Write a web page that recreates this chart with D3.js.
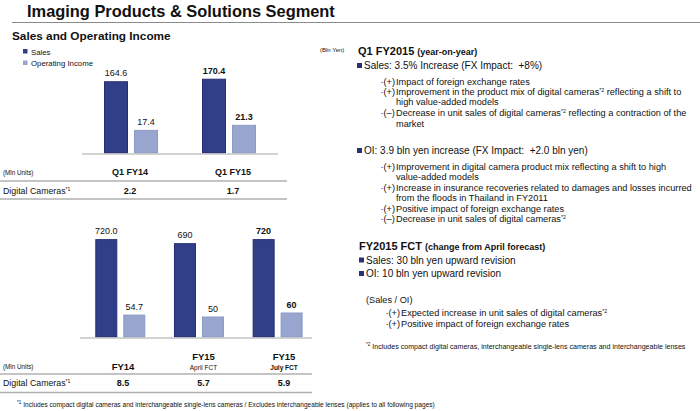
<!DOCTYPE html>
<html><head><meta charset="utf-8">
<script src="https://cdn.jsdelivr.net/npm/d3@7"></script>
<style>
html,body{margin:0;padding:0;background:#fff;}
svg{display:block;font-family:"Liberation Sans",Arial,Helvetica,sans-serif;}
</style></head>
<body>
<svg id="c" width="700" height="411"></svg>
<script>
// ---------- data ----------
const seriesNames = ["Sales", "Operating Income"];
const qCategories = ["Q1 FY14", "Q1 FY15"];
const qSales = [164.6, 170.4];
const qOI = [17.4, 21.3];
const qSalesLabels = ["164.6", "170.4"];
const qOILabels = ["17.4", "21.3"];
const qCameras = ["2.2", "1.7"];

const fyCategories = ["FY14", "FY15 April FCT", "FY15 July FCT"];
const fyMain = ["FY14", "FY15", "FY15"];
const fySub = ["", "April FCT", "July FCT"];
const fySales = [720.0, 690, 720];
const fyOI = [54.7, 50, 60];
const fySalesLabels = ["720.0", "690", "720"];
const fyOILabels = ["54.7", "50", "60"];
const fyCameras = ["8.5", "5.7", "5.9"];

const boldQ = [false, true];
const boldFY = [false, false, true];

// ---------- style ----------
const SALES = "#313f88", SALES_STROKE = "#262f75";
const OI = "#98a6cf", OI_STROKE = "#8c9ac6";
const svg = d3.select("#c");

// segments: strings, or {sup: "*2"}
function txt(x, y, segs, size, opts = {}) {
  const t = svg.append("text").attr("x", x).attr("y", y)
    .attr("font-size", size).attr("fill", opts.fill || "#111")
    .attr("font-weight", opts.bold ? "bold" : "normal")
    .attr("text-anchor", opts.anchor || "start");
  if (typeof segs === "string") segs = [segs];
  let raised = false;
  segs.forEach(s => {
    if (typeof s === "string") {
      const sp = t.append("tspan").text(s.replace(/  /g, "\u00a0 "));
      if (raised) { sp.attr("dy", 3); raised = false; }
    } else {
      t.append("tspan").attr("font-size", s.size || 5.2).attr("dy", -3).text(s.sup);
      raised = true;
    }
  });
  return t;
}

// ---------- header ----------
txt(27, 17, "Imaging Products & Solutions Segment", 16.4, {bold: true});
svg.append("line").attr("x1", 12).attr("x2", 700).attr("y1", 22.5).attr("y2", 22.5)
  .attr("stroke", "#8a8a8a").attr("stroke-width", 1.2);
txt(12, 40, "Sales and Operating Income", 11.8, {bold: true});

// legend
[SALES, OI].forEach((c, i) => {
  svg.append("rect").attr("x", 23).attr("y", 49 + i * 11.5).attr("width", 4.5).attr("height", 4.5).attr("fill", c);
  txt(31, 54.5 + i * 11.5, seriesNames[i], 7.8);
});
txt(320, 52, "(Bln Yen)", 6);

// ---------- generic grouped chart ----------
function drawChart(cats, sales, oi, sLab, oLab, bold, cfg) {
  const x = d3.scaleBand().domain(cats).range(cfg.xRange).padding(0);
  const inner = d3.scaleBand().domain(seriesNames).range(cfg.inner).paddingInner(cfg.pin);
  const yS = d3.scaleLinear().domain(cfg.sDom).range([cfg.base, cfg.sTop]);
  const yO = d3.scaleLinear().domain(cfg.oDom).range([cfg.base, cfg.oTop]);
  const g = svg.append("g");
  const groups = [
    {vals: sales, labs: sLab, y: yS, name: seriesNames[0], fill: SALES, stroke: SALES_STROKE},
    {vals: oi, labs: oLab, y: yO, name: seriesNames[1], fill: OI, stroke: OI_STROKE}
  ];
  groups.forEach(s => {
    g.selectAll(null).data(cats).enter().append("rect")
      .attr("x", c => x(c) + inner(s.name) + 0.5)
      .attr("width", inner.bandwidth() - 1)
      .attr("y", (c, i) => s.y(s.vals[i]))
      .attr("height", (c, i) => cfg.base - s.y(s.vals[i]))
      .attr("fill", s.fill).attr("stroke", s.stroke).attr("stroke-width", 1);
    g.selectAll(null).data(cats).enter().append("text")
      .attr("x", c => x(c) + inner(s.name) + inner.bandwidth() / 2)
      .attr("y", (c, i) => s.y(s.vals[i]) - 5.5)
      .attr("text-anchor", "middle").attr("font-size", 9)
      .attr("font-weight", (c, i) => bold[i] ? "bold" : "normal")
      .attr("fill", "#111")
      .text((c, i) => s.labs[i]);
  });
  svg.append("line").attr("x1", cfg.lineX[0]).attr("x2", cfg.lineX[1])
    .attr("y1", cfg.base + 1).attr("y2", cfg.base + 1)
    .attr("stroke", "#c4c4c4").attr("stroke-width", 1.6);
}

drawChart(qCategories, qSales, qOI, qSalesLabels, qOILabels, boldQ, {
  xRange: [82, 278], inner: [22, 76], pin: 0.2,
  sDom: [0, 200], oDom: [0, 50], base: 153, sTop: 66.4, oTop: 88, lineX: [82, 278]
});
drawChart(fyCategories, fySales, fyOI, fySalesLabels, fyOILabels, boldFY, {
  xRange: [81, 317], inner: [14.3, 64.3], pin: 0.214,
  sDom: [0, 800], oDom: [0, 100], base: 337, sTop: 228.8, oTop: 297, lineX: [80, 312]
});

// ---------- tables ----------
const colQ = d3.scalePoint().domain(qCategories).range([130, 233]);
txt(3, 175, "(Mln Units)", 6.3);
qCategories.forEach(c => txt(colQ(c), 175, c, 9, {bold: true, anchor: "middle"}));
svg.append("line").attr("x1", 0).attr("x2", 287).attr("y1", 181).attr("y2", 181).attr("stroke", "#b0b0b0").attr("stroke-width", 1.3);
txt(3, 194, ["Digital Cameras", {sup: "*1"}], 8.8);
qCategories.forEach((c, i) => txt(colQ(c), 194, qCameras[i], 9, {bold: true, anchor: "middle"}));
svg.append("line").attr("x1", 0).attr("x2", 287).attr("y1", 199).attr("y2", 199).attr("stroke", "#b0b0b0").attr("stroke-width", 1.3);

const colF = d3.scalePoint().domain(fyCategories).range([123, 284]);
txt(3, 369, "(Mln Units)", 6.3);
fyCategories.forEach((c, i) => {
  if (fySub[i]) {
    txt(colF(c), 360, fyMain[i], 9.5, {bold: true, anchor: "middle"});
    txt(colF(c), 370, fySub[i], 6.5, {bold: boldFY[i], anchor: "middle"});
  } else {
    txt(colF(c), 370, fyMain[i], 9.5, {bold: true, anchor: "middle"});
  }
});
svg.append("line").attr("x1", 0).attr("x2", 312).attr("y1", 374).attr("y2", 374).attr("stroke", "#b0b0b0").attr("stroke-width", 1.3);
txt(3, 386, ["Digital Cameras", {sup: "*1"}], 8.8);
fyCategories.forEach((c, i) => txt(colF(c), 386, fyCameras[i], 9, {bold: true, anchor: "middle"}));
svg.append("line").attr("x1", 0).attr("x2", 312).attr("y1", 392.5).attr("y2", 392.5).attr("stroke", "#b0b0b0").attr("stroke-width", 1.3);

txt(17, 407, [{sup: "*1", size: 4.6}, " Includes compact digital cameras and interchangeable single-lens cameras / Excludes interchangeable lenses (applies to all following pages)"], 6.6);

// ---------- right commentary ----------
function bullet(x, y) {
  svg.append("rect").attr("x", x).attr("y", y - 6).attr("width", 5).attr("height", 5).attr("fill", "#2a2f78");
}
const SUB = 9.2;
function item(x, y, sign, segs) {
  txt(x, y, "·(" + sign + ")", SUB);
  return txt(x + 15.5, y, segs, SUB);
}
const S2 = {sup: "*2"};

const t1 = txt(358, 55, "Q1 FY2015 ", 11, {bold: true});
t1.append("tspan").attr("font-size", 9).text("(year-on-year)");

bullet(357, 69);
txt(364, 69, "Sales: 3.5% Increase (FX Impact:  +8%)", 10);
item(380.5, 84.5, "+", "Impact of foreign exchange rates");
item(380.5, 95, "+", ["Improvement in the product mix of digital cameras", S2, " reflecting a shift to"]);
txt(396, 105, "high value-added models", SUB);
item(380.5, 116, "\u2013", ["Decrease in unit sales of digital cameras", S2, " reflecting a contraction of the"]);
txt(396, 127, "market", SUB);

bullet(357, 154);
txt(364, 154, "OI: 3.9 bln yen increase (FX Impact:  +2.0 bln yen)", 10);
item(380.5, 169.5, "+", "Improvement in digital camera product mix reflecting a shift to high");
txt(396, 179.5, "value-added models", SUB);
item(380.5, 190.5, "+", "Increase in insurance recoveries related to damages and losses incurred");
txt(396, 200.5, "from the floods in Thailand in FY2011", SUB);
item(380.5, 212, "+", "Positive impact of foreign exchange rates");
item(380.5, 222, "\u2013", ["Decrease in unit sales of digital cameras", S2]);

const t2 = txt(359, 250, "FY2015 FCT ", 11, {bold: true});
t2.append("tspan").attr("font-size", 9).text("(change from April forecast)");
bullet(359, 263.5);
txt(366, 263.5, "Sales: 30 bln yen upward revision", 10);
bullet(359, 277);
txt(366, 277, "OI: 10 bln yen upward revision", 10);

txt(366, 303, "(Sales / OI)", SUB);
item(385.5, 316, "+", ["Expected increase in unit sales of digital cameras", S2]);
item(385.5, 327, "+", "Positive impact of foreign exchange rates");

txt(366, 349, [{sup: "*2", size: 4.6}, " Includes compact digital cameras, interchangeable single-lens cameras and interchangeable lenses"], 7.1);
</script>
</body></html>
